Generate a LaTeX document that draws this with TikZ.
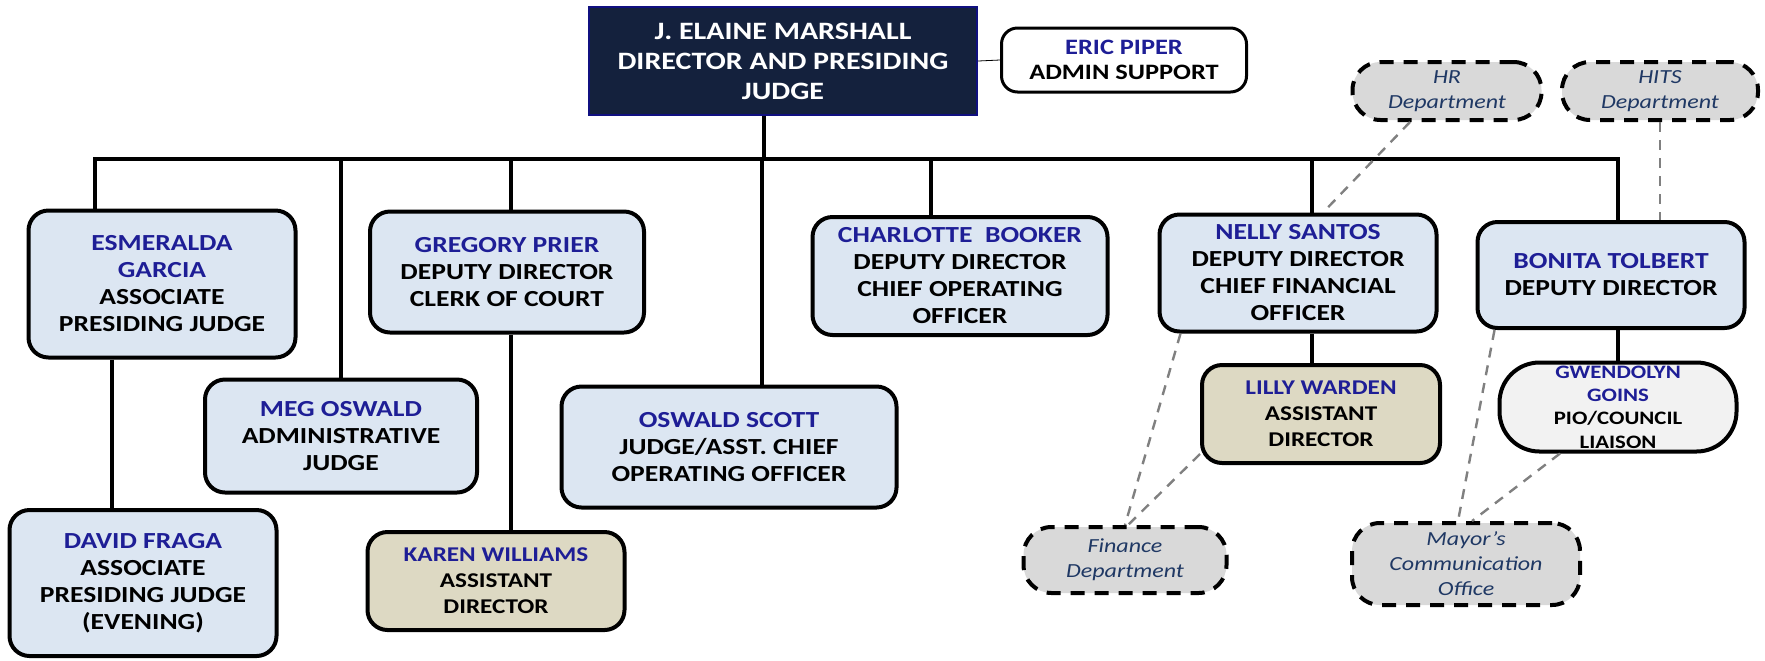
\documentclass[tikz,border=0pt]{standalone}
\usepackage{fontspec}
\setmainfont{Carlito}[FakeStretch=1.2]

\definecolor{boxblue}{RGB}{220,230,242}
\definecolor{boxtan}{RGB}{221,217,195}
\definecolor{boxgray}{RGB}{217,217,217}
\definecolor{boxwhite}{RGB}{242,242,242}
\definecolor{navy}{RGB}{20,33,61}
\definecolor{navyline}{RGB}{16,16,128}
\definecolor{whoblue}{RGB}{30,30,150}
\definecolor{deptblue}{RGB}{31,56,100}
\newcommand{\who}[1]{\textcolor{whoblue}{#1}}

\begin{document}
\begin{tikzpicture}[x=0.5pt,y=-0.5pt,
    person/.style={draw,line width=2pt,rounded corners=10pt,fill=boxblue,align=center,inner sep=0pt,
        font=\fontsize{11.5}{13.5}\selectfont\bfseries},
    asst/.style={person,fill=boxtan,font=\fontsize{10.5}{13}\selectfont\bfseries},
    dept/.style={draw,line width=2pt,dash pattern=on 7pt off 5pt,rounded corners=14pt,fill=boxgray,
        align=center,inner sep=0pt,text=deptblue,font=\fontsize{10}{12.5}\selectfont\itshape},
    link/.style={line width=2pt},
    dlink/.style={black!50,line width=1.2pt,dash pattern=on 5pt off 4pt}]
    \useasboundingbox (0,0) rectangle (1765,660);

    % top
    \node[draw=navyline,line width=1.2pt,fill=navy,text=white,align=center,inner sep=0pt,
        minimum width=194pt,minimum height=54pt,font=\fontsize{12.5}{15}\selectfont\bfseries]
        (dir) at (783,61) {J. ELAINE MARSHALL\\DIRECTOR AND PRESIDING\\JUDGE};
    \node[person,fill=white,line width=1.5pt,rounded corners=8pt,font=\fontsize{11}{12.5}\selectfont\bfseries,
        minimum width=122.5pt,minimum height=32pt] (pip) at (1124,60) {\who{ERIC PIPER}\\ADMIN SUPPORT};

    % deputies and judges
    \node[person,minimum width=133.5pt,minimum height=73.5pt] (gar) at (162,284)
        {\who{ESMERALDA}\\\who{GARCIA}\\ASSOCIATE\\PRESIDING JUDGE};
    \node[person,minimum width=136pt,minimum height=56.5pt] (meg) at (341,436)
        {\who{MEG OSWALD}\\ADMINISTRATIVE\\JUDGE};
    \node[person,minimum width=137pt,minimum height=60.5pt] (gre) at (507,272)
        {\who{GREGORY PRIER}\\DEPUTY DIRECTOR\\CLERK OF COURT};
    \node[person,minimum width=167.5pt,minimum height=60.5pt] (osw) at (729,447)
        {\who{OSWALD SCOTT}\\JUDGE/ASST. CHIEF\\OPERATING OFFICER};
    \node[person,minimum width=147.5pt,minimum height=59pt] (cha) at (960,276)
        {\who{CHARLOTTE\ \ BOOKER}\\DEPUTY DIRECTOR\\CHIEF OPERATING\\OFFICER};
    \node[person,minimum width=138.5pt,minimum height=58.5pt] (nel) at (1298,273)
        {\who{NELLY SANTOS}\\DEPUTY DIRECTOR\\CHIEF FINANCIAL\\OFFICER};
    \node[person,minimum width=133.5pt,minimum height=53pt] (bon) at (1611,275)
        {\who{BONITA TOLBERT}\\DEPUTY DIRECTOR};

    % second level
    \node[person,minimum width=133.5pt,minimum height=73pt] (dav) at (143,583)
        {\who{DAVID FRAGA}\\ASSOCIATE\\PRESIDING JUDGE\\(EVENING)};
    \node[asst,minimum width=128.5pt,minimum height=49pt] (kar) at (496,581)
        {\who{KAREN WILLIAMS}\\ASSISTANT\\DIRECTOR};
    \node[asst,minimum width=119pt,minimum height=49pt] (lil) at (1321,414)
        {\who{LILLY WARDEN}\\ASSISTANT\\DIRECTOR};
    \node[person,fill=boxwhite,rounded corners=20pt,font=\fontsize{9.5}{11.7}\selectfont\bfseries,
        minimum width=118.5pt,minimum height=44.5pt] (gwe) at (1618,407)
        {\who{GWENDOLYN}\\\who{GOINS}\\PIO/COUNCIL\\LIAISON};

    % departments
    \node[dept,minimum width=94.5pt,minimum height=29pt] (hr) at (1447,91) {HR\\Department};
    \node[dept,minimum width=98pt,minimum height=29pt] (hit) at (1660,91) {HITS\\Department};
    \node[dept,minimum width=101.5pt,minimum height=33pt] (fin) at (1125,560) {Finance\\Department};
    \node[dept,minimum width=114pt,minimum height=41pt] (may) at (1466,564) {Mayor's\\Communication\\Office};

    % bus
    \coordinate (tg) at (95,159);
    \coordinate (tm) at (341,159);
    \coordinate (tr) at (511,159);
    \coordinate (tt) at (764,159);
    \coordinate (ts) at (762,159);
    \coordinate (tc) at (931,159);
    \coordinate (tn) at (1312,159);
    \coordinate (tb) at (1618,159);
    \coordinate (td) at (112,0);

    \draw (dir.east) -- (pip.west);
    \draw[link] (tt |- dir.south) -- (tt);
    \draw[link] (tg |- gar.north) -- (tg) -- (tb) -- (tb |- bon.north);
    \draw[link] (tm) -- (tm |- meg.north);
    \draw[link] (tr) -- (tr |- gre.north);
    \draw[link] (ts) -- (ts |- osw.north);
    \draw[link] (tc) -- (tc |- cha.north);
    \draw[link] (tn) -- (tn |- nel.north);
    \draw[link] (td |- gar.south) -- (td |- dav.north);
    \draw[link] (tr |- gre.south) -- (tr |- kar.north);
    \draw[link] (tn |- nel.south) -- (tn |- lil.north);
    \draw[link] (tb |- bon.south) -- (tb |- gwe.north);

    % dotted reporting lines
    \draw[dlink] ([xshift=-18.5pt]hr.south) -- ([xshift=12.5pt]nel.north);
    \draw[dlink] (hit.south) -- (hit.south |- bon.north);
    \draw[dlink] ([xshift=11.5pt]nel.south west) -- (fin.north);
    \draw[dlink] ([yshift=5.5pt]lil.south west) -- ([xshift=1.5pt]fin.north);
    \draw[dlink] ([xshift=9.5pt]bon.south west) -- ([xshift=-4pt]may.north);
    \draw[dlink] ([xshift=-29pt]gwe.south) -- ([xshift=3pt]may.north);
\end{tikzpicture}
\end{document}
